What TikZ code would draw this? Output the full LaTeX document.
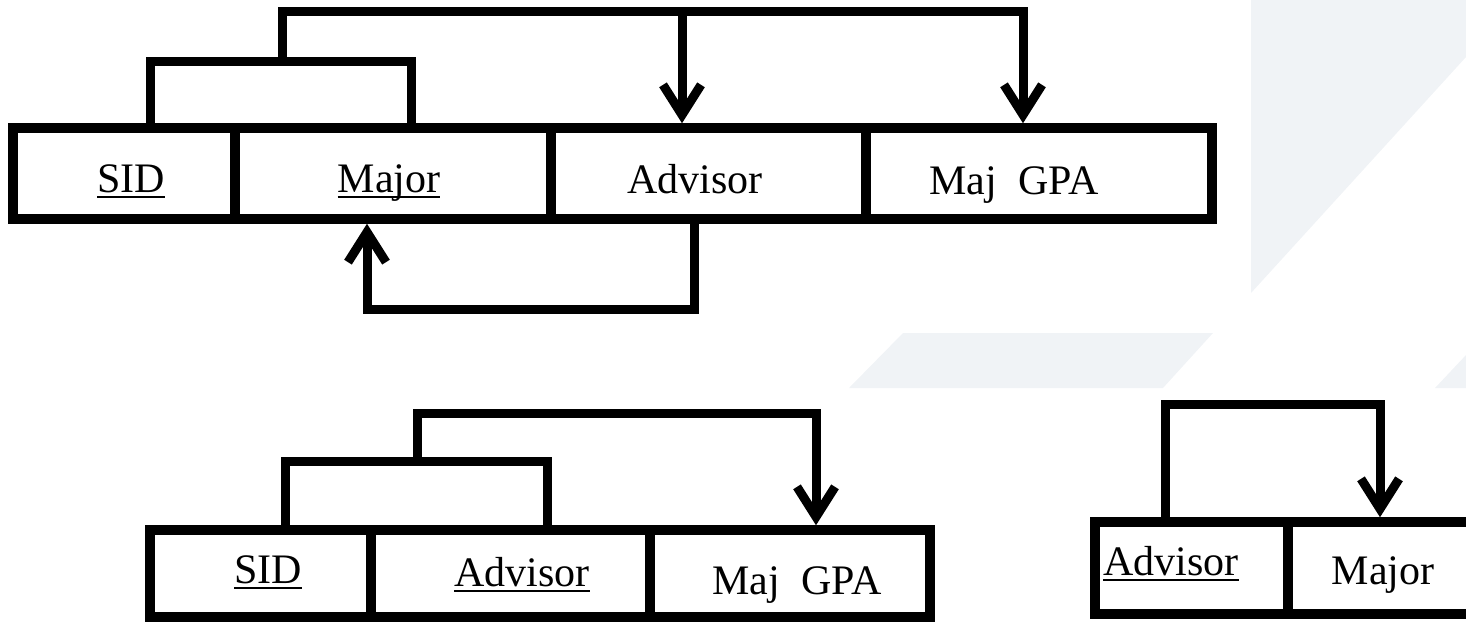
\documentclass[tikz,border=0pt]{standalone}
\usepackage{fontspec}
\setmainfont{Liberation Serif}
\usetikzlibrary{arrows.meta}
\definecolor{bgshade}{RGB}{240,243,246}
\newcommand{\pk}[1]{\setbox0\hbox{#1}\rlap{\rule[-6pt]{\wd0}{1.8pt}}\box0}

\begin{document}
\begin{tikzpicture}[x=1pt,y=-1pt,
    cell/.style={draw, line width=9.5pt, inner sep=0pt},
    link/.style={line width=9pt},
    lbl/.style={anchor=base, inner sep=0pt, font=\fontsize{42}{50}\selectfont},
    >={Straight Barb[length=30pt,width=38pt]}]
    \useasboundingbox (0,0) rectangle (1466,623);
    \clip (0,0) rectangle (1466,623);
    % background
    \fill[bgshade] (1251,0) -- (1466,0) -- (1466,57) -- (1251,293) -- cycle;
    \fill[bgshade] (903,333) -- (1213,333) -- (1163,388) -- (849,388) -- cycle;
    \fill[bgshade] (1435,388) -- (1466,388) -- (1466,355) -- cycle;

    % SID, Major -> Advisor, Maj GPA
    \node[cell, minimum width=222pt, minimum height=91pt] (sidA) at (124,173.5) {};
    \node[cell, minimum width=316pt, minimum height=91pt] (majA) at (393,173.5) {};
    \node[cell, minimum width=315pt, minimum height=91pt] (advA) at (708.5,173.5) {};
    \node[cell, minimum width=346pt, minimum height=91pt] (gpaA) at (1039,173.5) {};
    \node[lbl] (tsidA) at (131,192) {\pk{SID}};
    \node[lbl] (tmajA) at (389,192) {\pk{Major}};
    \node[lbl] (tadvA) at (695,193) {Advisor};
    \node[lbl] (tgpaA) at (1014,194) {Maj\ \ GPA};
    \draw[link] ([xshift=26pt]sidA.north) -- ++(0,-62) -- ++(132,0) coordinate (dA) -| ([xshift=18pt]majA.north);
    \draw[link,->] (dA) -- ++(0,-50) coordinate (uA) -| ([xshift=-16pt]gpaA.north);
    \coordinate (hA) at ([xshift=-26.5pt]advA.north);
    \draw[link,->] (hA |- uA) -- (hA);
    \draw[link,->] ([xshift=-14.5pt]advA.south) -- ++(0,86) -| ([xshift=-26pt]majA.south);

    % SID, Advisor -> Maj GPA
    \node[cell, minimum width=221pt, minimum height=87pt] (sidB) at (260.5,573.5) {};
    \node[cell, minimum width=279pt, minimum height=87pt] (advB) at (510.5,573.5) {};
    \node[cell, minimum width=280pt, minimum height=87pt] (gpaB) at (790,573.5) {};
    \node[lbl] (tsidB) at (268,583) {\pk{SID}};
    \node[lbl] (tadvB) at (522,586) {\pk{Advisor}};
    \node[lbl] (tgpaB) at (797,594) {Maj\ \ GPA};
    \draw[link] ([xshift=24.5pt]sidB.north) -- ++(0,-64) -- ++(132,0) coordinate (dB) -| ([xshift=36.5pt]advB.north);
    \draw[link,->] (dB) -- ++(0,-48) -| ([xshift=26pt]gpaB.north);

    % Advisor -> Major
    \node[cell, minimum width=193pt, minimum height=92pt] (advC) at (1191.5,568) {};
    \node[cell, minimum width=187pt, minimum height=92pt] (majC) at (1381.5,568) {};
    \node[lbl] (tadvC) at (1171,575) {\pk{Advisor}};
    \node[lbl] (tmajC) at (1383,584) {Major};
    \draw[link,->] ([xshift=-26.5pt]advC.north) -- ++(0,-113) -| ([xshift=-1.5pt]majC.north);
\end{tikzpicture}
\end{document}
